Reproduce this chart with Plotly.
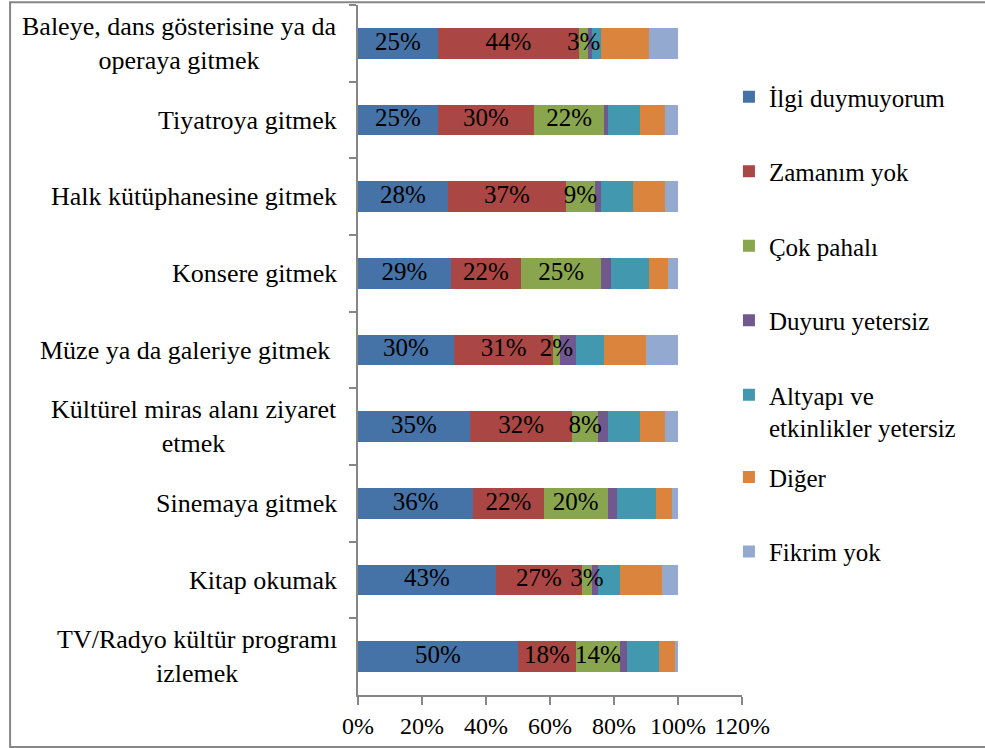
import plotly.graph_objects as go

categories = [
    "Baleye, dans gösterisine ya da<br>operaya gitmek",
    "Tiyatroya gitmek",
    "Halk kütüphanesine gitmek",
    "Konsere gitmek",
    "Müze ya da galeriye gitmek ",
    "Kültürel miras alanı ziyaret<br>etmek",
    "Sinemaya gitmek",
    "Kitap okumak",
    "TV/Radyo kültür programı<br>izlemek",
]

series_names = [
    "İlgi duymuyorum",
    "Zamanım yok",
    "Çok pahalı",
    "Duyuru yetersiz",
    "Altyapı ve<br>etkinlikler yetersiz",
    "Diğer",
    "Fikrim yok",
]

ilgi_duymuyorum = [25, 25, 28, 29, 30, 35, 36, 43, 50]
zamanim_yok = [44, 30, 37, 22, 31, 32, 22, 27, 18]
cok_pahali = [3, 22, 9, 25, 2, 8, 20, 3, 14]
duyuru_yetersiz = [1, 1, 2, 3, 5, 3, 3, 2, 2]
altyapi_yetersiz = [3, 10, 10, 12, 9, 10, 12, 7, 10]
diger = [15, 8, 10, 6, 13, 8, 5, 13, 5]
fikrim_yok = [9, 4, 4, 3, 10, 4, 2, 5, 1]

series_values = [ilgi_duymuyorum, zamanim_yok, cok_pahali, duyuru_yetersiz,
                 altyapi_yetersiz, diger, fikrim_yok]
colors = ["#4572A7", "#AA4643", "#89A54E", "#71588F", "#4198AF", "#DB843D", "#93A9CF"]
labelled = [True, True, True, False, False, False, False]
legend_ids = ["legend", "legend", "legend", "legend", "legend", "legend2", "legend2"]

x_ticks = [0, 20, 40, 60, 80, 100, 120]

FONT = "Liberation Serif"
AXIS = "#868686"

fig = go.Figure()
for i, (name, vals, col, lg) in enumerate(
        zip(series_names, series_values, colors, legend_ids)):
    fig.add_trace(go.Bar(
        y=categories, x=vals, name=name, orientation="h",
        marker=dict(color=col, line=dict(width=0)),
        legendgroup=f"g{i}",
        legend=lg,
        hoverinfo="skip",
    ))

# value labels drawn on top of all segments, centred in each labelled segment
lab_x, lab_y, lab_t = [], [], []
cum = [0] * len(categories)
for vals, lab in zip(series_values, labelled):
    for j, v in enumerate(vals):
        if lab:
            lab_x.append(cum[j] + v / 2)
            lab_y.append(categories[j])
            lab_t.append(f"{v}%")
        cum[j] += v
fig.add_trace(go.Scatter(
    x=lab_x, y=lab_y, text=lab_t, mode="text",
    textposition="middle center",
    textfont=dict(family=FONT, size=25, color="black"),
    showlegend=False, hoverinfo="skip", cliponaxis=False,
))

annotations = []
for c in categories:
    annotations.append(dict(
        x=-0.05, xref="paper", y=c, yref="y", text=c, showarrow=False,
        xanchor="right", yanchor="middle", align="center",
        font=dict(family=FONT, size=26, color="black"),
    ))

leg_common = dict(
    xanchor="left", yanchor="top",
    traceorder="grouped", tracegroupgap=39, valign="top",
    font=dict(family=FONT, size=25, color="black"),
    bgcolor="rgba(0,0,0,0)",
)

fig.update_layout(
    barmode="stack",
    bargap=0.6,
    width=985, height=748,
    margin=dict(l=358, r=243, t=5, b=53, autoexpand=False),
    paper_bgcolor="white", plot_bgcolor="white",
    font=dict(family=FONT, size=24, color="black"),
    showlegend=True,
    legend=dict(x=0.966, y=0.90, **leg_common),
    legend2=dict(x=0.966, y=0.349, **leg_common),
    xaxis=dict(
        range=[0, 120], tickvals=x_ticks, ticktext=[f"{v}%" for v in x_ticks],
        showgrid=False, zeroline=False,
        showline=True, linecolor=AXIS, linewidth=1.5,
        ticks="outside", ticklen=8, tickcolor=AXIS, tickwidth=1.5,
        tickfont=dict(family=FONT, size=24, color="black"),
    ),
    yaxis=dict(
        autorange="reversed", showticklabels=False,
        showgrid=False, zeroline=False,
        showline=True, linecolor=AXIS, linewidth=1.5,
        ticks="outside", ticklen=7, tickcolor=AXIS, tickwidth=1.5,
        tickson="boundaries",
    ),
    annotations=annotations,
    shapes=[dict(type="rect", xref="paper", yref="paper",
                 x0=-0.906, x1=1.7, y0=-0.0754, y1=1.004,
                 line=dict(color=AXIS, width=2), fillcolor="rgba(0,0,0,0)")],
)

fig.write_html("out.html", config={"displayModeBar": False},
               post_script="document.body.style.margin='0';document.body.style.overflow='hidden';")
